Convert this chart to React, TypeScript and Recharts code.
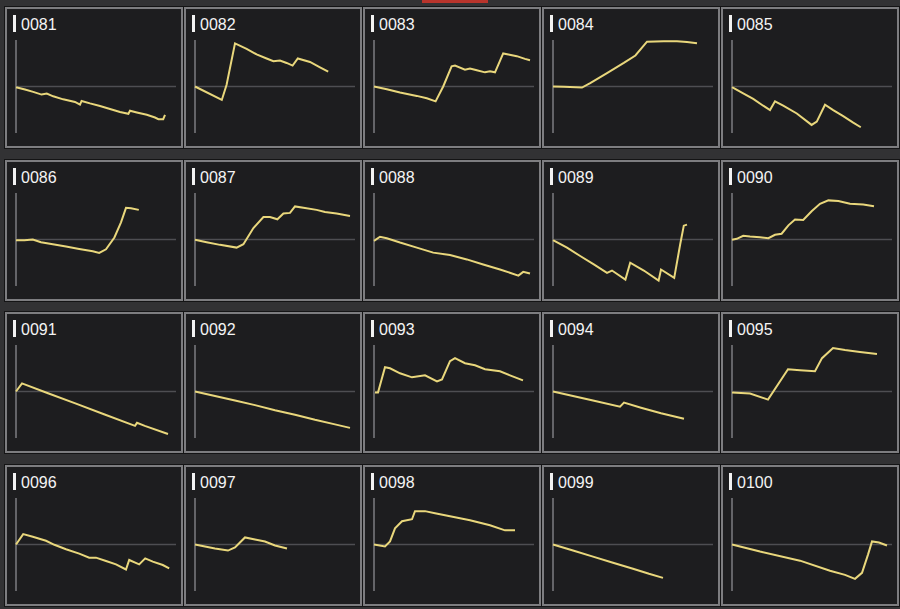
import { LineChart, Line, XAxis, YAxis, ReferenceLine } from 'recharts';

// [day, change] pairs
const s0081 = [[0, -0.7], [2.25, -3], [4.3, -5.3], [6.4, -8], [7.7, -7], [9.3, -9.7], [11.8, -12.7], [14.75, -15.3], [16, -18], [16.4, -14.3], [18.5, -16.7], [21, -19.3], [23.5, -22.3], [26, -25.3], [28.1, -27], [28.5, -24], [30.2, -25.7], [32.7, -28], [34.75, -30.7], [35.6, -32.3], [36.8, -32.3], [37.25, -28]];
const s0082 = [[0, 0], [6.7, -13.3], [7.9, 1.7], [10, 42.7], [12.9, 37.3], [15.4, 31.7], [17.9, 27.7], [19.6, 25], [21.25, 25.7], [22.9, 23.3], [24.4, 20.7], [25.7, 27.7], [28.75, 24.3], [31.25, 19], [33.3, 14.7]];
const s0083 = [[0, 0], [3.2, -2.7], [6.5, -6], [10.7, -9.3], [13.2, -11.7], [15.4, -14.7], [17.3, 0], [19.4, 20], [20.25, 20.7], [22.75, 16.7], [24, 17.7], [25.7, 16], [27.75, 14], [29, 15], [30.25, 14], [32.3, 32.7], [33.6, 31.7], [35.7, 30], [37.75, 27.3], [39, 26]];
const s0084 = [[0, 0], [2.7, -0.3], [7.25, -1], [9.3, 3.3], [13.5, 13.3], [17.7, 23.3], [20.6, 30.7], [23.5, 44.3], [27.7, 44.7], [31, 44.7], [33.5, 44], [36, 42.7]];
const s0085 = [[0, -0.7], [2.8, -6.7], [5.3, -12.3], [7.8, -19], [9.5, -23.3], [10.75, -14.7], [12.8, -19], [16.2, -26.7], [19.9, -38], [21.2, -34.7], [23.25, -18], [25.3, -23.3], [27.8, -29.3], [30.3, -35.7], [32.2, -40.3]];
const s0086 = [[0, -0.7], [2.1, -0.7], [4.2, 0], [6.25, -2.7], [9.2, -4.7], [12.5, -7], [15.8, -9.3], [19.2, -11.7], [20.8, -13.3], [22.5, -9.7], [24.6, 2], [26.25, 17], [27.5, 31.3], [28.75, 31], [30.7, 29.3]];
const s0087 = [[0, -0.3], [2.9, -2.7], [6.25, -5.3], [10.4, -8], [12.1, -4.7], [14.6, 11.3], [17.1, 22.3], [18.75, 22.3], [20.6, 20], [22.1, 25.7], [23.75, 26.3], [25, 32.7], [27.1, 31.3], [30.4, 29.3], [32.5, 27.3], [35.4, 25.7], [38.75, 23.3]];
const s0088 = [[0, -1.3], [1.5, 2.7], [3.2, 1.3], [6.5, -3], [10.7, -8], [14.8, -13], [19, -15.3], [23.2, -19.7], [27.3, -24.7], [31.5, -29.7], [36.1, -35.7], [37.3, -32], [39, -33.7]];
const s0089 = [[0, -0.7], [3.5, -8], [6.8, -16.3], [10.2, -24.7], [13.5, -33], [14.75, -30.7], [18.1, -39.7], [19.3, -23], [22.7, -30.7], [26.4, -40.7], [27, -29.7], [30.3, -38], [31.8, -4.7], [32.7, 13.7], [33.5, 14.7]];
const s0090 = [[0, -0.3], [1.2, 0.7], [2.8, 3.7], [4.5, 3], [7, 2.3], [9.1, 1.3], [10.75, 4.7], [12.4, 5.7], [14.1, 14], [15.75, 19.7], [17.8, 19.3], [19.9, 28], [22, 35.3], [24.1, 38.7], [26.6, 38], [29.5, 35.3], [32.8, 34.7], [35.5, 33]];
const s0091 = [[0, 0], [1.5, 8], [8, -1.7], [15, -12], [22, -22.5], [29.75, -34], [30.25, -31], [32.2, -34], [38, -42]];
const s0092 = [[0, 0], [5, -4.5], [10, -9], [15, -13.5], [20, -18.5], [25, -23], [30, -28], [35, -32.5], [38.75, -36]];
const s0093 = [[0.25, -1], [1, -1], [2.75, 24], [4, 23], [6.5, 18], [9.5, 14], [12.75, 16], [15.75, 10], [17, 12], [19, 30], [20.25, 33], [22.75, 28], [25.25, 26], [27.75, 22], [31.5, 20], [34, 16], [37.25, 11]];
const s0094 = [[0, 0], [5, -4.5], [10, -9], [16.75, -15], [17.75, -11], [22, -16], [27, -21.5], [32.75, -27]];
const s0095 = [[0, -1], [4.5, -2], [9, -8], [14, 22], [17, 21], [20.75, 20], [22.5, 33], [25.25, 43], [28.25, 41], [32, 39], [36.25, 37]];
const s0096 = [[0, 0], [1.8, 10.3], [4.2, 7.7], [7.5, 3.7], [9.6, -0.3], [12.5, -4.7], [15.8, -9], [18.3, -13], [20, -13], [22.5, -16.3], [25, -19.7], [27.5, -24.7], [28.3, -15.3], [29.8, -18], [30.8, -19.7], [32.3, -13.7], [34.2, -17], [36.7, -20.3], [38.3, -23.7]];
const s0097 = [[0, 0], [5, -4], [8.25, -6], [10, -3], [12.5, 7], [15, 5], [17.5, 3], [20, -1], [23, -4]];
const s0098 = [[0, 0], [2.75, -2], [4, 3], [5.25, 16], [7, 23], [9.5, 25], [10.25, 33], [12.75, 33], [15.25, 31], [17.75, 29], [24, 24], [29, 19], [32.75, 14], [35.25, 14]];
const s0099 = [[0, 0], [5, -6], [10, -12], [15, -18], [20, -24], [24, -29], [27.5, -33]];
const s0100 = [[0, 0], [7, -7], [17, -16], [24.5, -26], [28.25, -30], [30.75, -34], [32.5, -28], [34, -10], [35, 3], [36.75, 2], [38.75, -1]];

const labels = ['0081', '0082', '0083', '0084', '0085', '0086', '0087', '0088', '0089', '0090',
  '0091', '0092', '0093', '0094', '0095', '0096', '0097', '0098', '0099', '0100'];
const series = [s0081, s0082, s0083, s0084, s0085, s0086, s0087, s0088, s0089, s0090,
  s0091, s0092, s0093, s0094, s0095, s0096, s0097, s0098, s0099, s0100];

const DAYS: [number, number] = [0, 40];
const RANGE: [number, number] = [-46, 46];

const COL_X = [5, 184, 363, 542, 721];
const ROW_Y = [7, 160, 312, 465];
const PANEL_W = 178;
const PANEL_H = 141;

function Panel({ label, points, left, top }: { label: string; points: number[][]; left: number; top: number }) {
  const data = points.map(([d, v]) => ({ d, v }));
  return (
    <div style={{
      position: 'absolute', left, top, width: PANEL_W, height: PANEL_H, boxSizing: 'border-box',
      border: '2px solid #7d7d80', background: '#1d1d1f', boxShadow: '0 0 0 1px #141415',
    }}>
      <div style={{ position: 'absolute', left: 6, top: 6, width: 3, height: 17, background: '#f2f2f2' }} />
      <div style={{
        position: 'absolute', left: 14, top: 8, fontSize: 16, lineHeight: '16px', color: '#f4f4f4',
        fontFamily: '"Liberation Sans", Arial, sans-serif',
      }}>{label}</div>
      <div style={{ position: 'absolute', left: 0, top: 0 }}>
        <LineChart width={PANEL_W - 4} height={PANEL_H - 4} data={data}
          margin={{ top: 31, right: 5, bottom: 13, left: 9 }}>
          <XAxis dataKey="d" type="number" domain={DAYS} hide />
          <YAxis type="number" domain={RANGE} hide />
          <ReferenceLine x={0} stroke="#646468" strokeWidth={2} />
          <ReferenceLine y={0} stroke="#4e4e52" strokeWidth={1.5} />
          <Line type="linear" dataKey="v" stroke="#e9d77c" strokeWidth={2} dot={false}
            isAnimationActive={false} />
        </LineChart>
      </div>
    </div>
  );
}

export default function App() {
  return (
    <div style={{ position: 'relative', width: 900, height: 609, background: '#323234', overflow: 'hidden' }}>
      <style>{'body{margin:0}'}</style>
      <div style={{ position: 'absolute', left: 422, top: 0, width: 66, height: 3, background: '#b8342c' }} />
      {labels.map((lab, i) => (
        <Panel key={lab} label={lab} points={series[i]} left={COL_X[i % 5]} top={ROW_Y[Math.floor(i / 5)]} />
      ))}
    </div>
  );
}
